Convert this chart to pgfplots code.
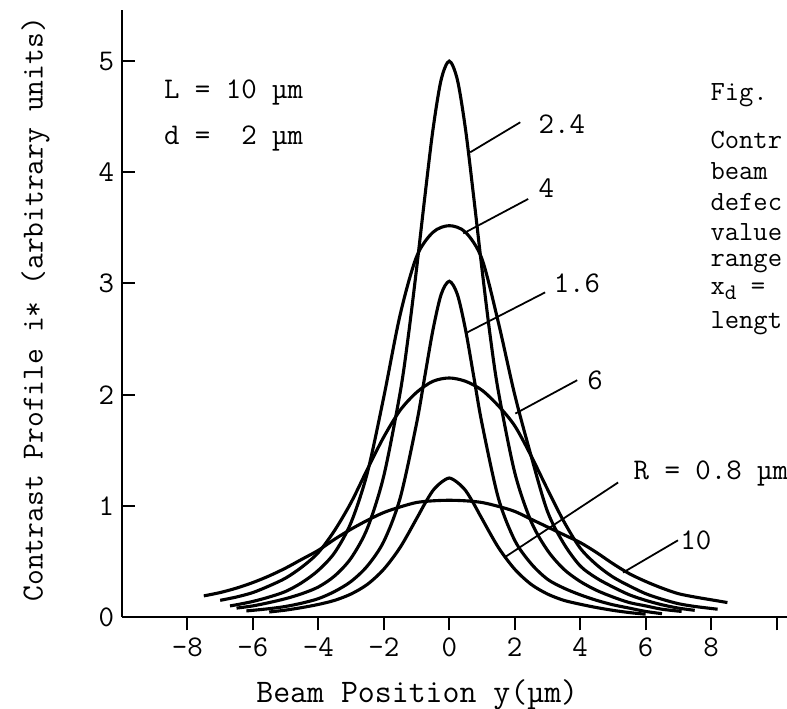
\documentclass[border=0pt]{standalone}
\usepackage{pgfplots}
\pgfplotsset{compat=1.18}
\usepackage{fontspec}
\begin{document}
\begin{tikzpicture}[font=\ttfamily\fontsize{13.5}{15}\selectfont]
\begin{axis}[name=ax, scale only axis, width=299.25pt, height=273.15pt,
  xmin=-10, xmax=10.32, ymin=0, ymax=5.46,
  axis x line=bottom, axis y line=left,
  axis line style={line width=1.1pt, -},
  clip=false,
  xtick={-8,-6,-4,-2,0,2,4,6,8,10},
  xticklabels={-8,-6,-4,-2,0,2,4,6,8,{}},
  ytick={0,1,2,3,4,5},
  yticklabels={0,1,2,3,4,5},
  tick align=inside,
  major tick length=6pt,
  tick style={line width=0.9pt, black},
  every major x tick/.append style={yshift=-6pt},
  xticklabel style={yshift=-6pt, font=\ttfamily\fontsize{13.5}{15}\selectfont},
  yticklabel style={font=\ttfamily\fontsize{13.5}{15}\selectfont},
  ylabel={Contrast Profile i* (arbitrary units)},
  xlabel={Beam Position y(µm)},
  ylabel style={at={(axis description cs:-0.130,0.507)}, anchor=center, font=\ttfamily\fontsize{13.8}{15}\selectfont},
  xlabel style={at={(axis description cs:0.444,-0.128)}, anchor=center, font=\ttfamily\fontsize{14.8}{16}\selectfont},
]
% R = 0.8
\addplot[smooth, black, line width=1.4pt] coordinates {
(-5.5,0.045) (-5,0.062) (-4.5,0.085) (-4,0.113) (-3.5,0.15) (-3,0.207) (-2.5,0.294) (-2,0.43) (-1.5,0.626) (-1,0.884) (-0.75,1.018) (-0.5,1.137) (-0.25,1.21) (0,1.25) (0.25,1.21) (0.5,1.137) (0.75,1.018) (1,0.884) (1.5,0.626) (2,0.43) (2.5,0.294) (3,0.207) (3.5,0.15) (4,0.115) (4.5,0.085) (5,0.06) (5.5,0.04) (6,0.025)};
% R = 1.6
\addplot[smooth, black, line width=1.4pt] coordinates {
(-6.2,0.055) (-6,0.06) (-5.5,0.075) (-5,0.095) (-4.5,0.125) (-4,0.165) (-3.5,0.23) (-3,0.32) (-2.5,0.46) (-2,0.68) (-1.5,1.07) (-1,1.74) (-0.75,2.16) (-0.5,2.58) (-0.25,2.9) (0,3.02) (0.25,2.9) (0.5,2.58) (0.75,2.16) (1,1.74) (1.5,1.07) (2,0.69) (2.5,0.48) (3,0.34) (3.5,0.26) (4,0.2) (4.5,0.15) (5,0.11) (5.5,0.08) (6,0.05) (6.5,0.03)};
% R = 2.4
\addplot[smooth, black, line width=1.4pt] coordinates {
(-6.5,0.08) (-6,0.1) (-5.5,0.13) (-5,0.165) (-4.5,0.21) (-4,0.27) (-3.5,0.37) (-3,0.53) (-2.5,0.8) (-2,1.27) (-1.5,2.02) (-1.25,2.53) (-1,3.13) (-0.75,3.77) (-0.5,4.38) (-0.25,4.83) (0,5.0) (0.25,4.83) (0.5,4.38) (0.75,3.77) (1,3.13) (1.25,2.53) (1.5,2.03) (2,1.3) (2.5,0.86) (3,0.6) (3.5,0.43) (4,0.32) (4.5,0.24) (5,0.18) (5.5,0.13) (6,0.1) (6.5,0.07) (7.1,0.05)};
% R = 4
\addplot[smooth, black, line width=1.4pt] coordinates {
(-6.7,0.1) (-6.5,0.11) (-6,0.14) (-5.5,0.18) (-5,0.23) (-4.5,0.31) (-4,0.42) (-3.5,0.58) (-3,0.85) (-2.5,1.3) (-2,1.98) (-1.5,2.72) (-1,3.24) (-0.5,3.46) (0,3.52) (0.5,3.46) (1,3.22) (1.5,2.65) (2,2.0) (2.5,1.45) (3,0.95) (3.5,0.66) (4,0.46) (4.5,0.35) (5,0.27) (5.5,0.2) (6,0.15) (6.5,0.11) (7,0.08) (7.5,0.06)};
% R = 6
\addplot[smooth, black, line width=1.4pt] coordinates {
(-7,0.15) (-6.5,0.18) (-6,0.22) (-5.5,0.28) (-5,0.35) (-4.5,0.45) (-4,0.58) (-3.5,0.78) (-3,1.03) (-2.5,1.33) (-2,1.62) (-1.5,1.86) (-1,2.02) (-0.5,2.12) (0,2.15) (0.5,2.12) (1,2.04) (1.5,1.9) (2,1.72) (2.5,1.45) (3,1.15) (3.5,0.86) (4,0.62) (4.5,0.47) (5,0.36) (5.5,0.28) (6,0.21) (6.5,0.16) (7,0.12) (7.5,0.095) (8.2,0.07)};
% R = 10
\addplot[smooth, black, line width=1.4pt] coordinates {
(-7.5,0.19) (-7,0.22) (-6.5,0.26) (-6,0.31) (-5.5,0.37) (-5,0.44) (-4.5,0.52) (-4,0.6) (-3.5,0.7) (-3,0.79) (-2.5,0.87) (-2,0.94) (-1.5,0.99) (-1,1.03) (-0.5,1.045) (0,1.05) (0.5,1.045) (1,1.03) (1.5,0.995) (2,0.95) (2.5,0.88) (3,0.81) (3.5,0.74) (4,0.67) (4.5,0.58) (5,0.48) (5.5,0.39) (6,0.32) (6.5,0.26) (7,0.21) (7.5,0.18) (8,0.155) (8.5,0.13)};
% leader lines
\draw[line width=0.8pt] (axis cs:2.17,4.45) -- (axis cs:0.64,4.18);
\draw[line width=0.8pt] (axis cs:2.41,3.76) -- (axis cs:0.43,3.45);
\draw[line width=0.8pt] (axis cs:2.93,2.92) -- (axis cs:0.55,2.56);
\draw[line width=0.8pt] (axis cs:3.91,2.13) -- (axis cs:2.02,1.83);
\draw[line width=0.8pt] (axis cs:5.16,1.21) -- (axis cs:1.71,0.54);
\draw[line width=0.8pt] (axis cs:6.99,0.69) -- (axis cs:5.31,0.40);
% labels
\node[anchor=west, inner sep=0] at (axis cs:2.72,4.43) {2.4};
\node[anchor=west, inner sep=0] at (axis cs:2.72,3.86) {4};
\node[anchor=west, inner sep=0] at (axis cs:3.18,3.0) {1.6};
\node[anchor=west, inner sep=0] at (axis cs:4.21,2.13) {6};
\node[anchor=west, inner sep=0] at (axis cs:5.62,1.29) {R = 0.8 µm};
\node[anchor=west, inner sep=0] at (axis cs:7.05,0.69) {10};
\node[anchor=west, inner sep=0] at (axis cs:-8.73,4.72) {L = 10 µm};
\node[anchor=west, inner sep=0] at (axis cs:-8.73,4.30) {d = \ 2 µm};
% caption fragment at right (cut by the page edge)
\begin{scope}[font=\ttfamily\fontsize{12.5}{14}\selectfont]
\node[anchor=west, inner sep=0] at (axis cs:7.97,4.69) {Fig.};
\node[anchor=west, inner sep=0] at (axis cs:7.97,4.29) {Contr};
\node[anchor=west, inner sep=0] at (axis cs:7.97,4.01) {beam};
\node[anchor=west, inner sep=0] at (axis cs:7.97,3.73) {defec};
\node[anchor=west, inner sep=0] at (axis cs:7.97,3.46) {value};
\node[anchor=west, inner sep=0] at (axis cs:7.97,3.18) {range};
\node[anchor=west, inner sep=0] at (axis cs:7.97,2.93) {x\raisebox{-2.5pt}{\fontsize{10}{11}\selectfont d} =};
\node[anchor=west, inner sep=0] at (axis cs:7.97,2.64) {lengt};
\end{scope}
\end{axis}
\pgfresetboundingbox
\path[use as bounding box] ([xshift=-54.9pt,yshift=-41.4pt]ax.south west) rectangle ([yshift=4.5pt]ax.north east);
\end{tikzpicture}
\end{document}
